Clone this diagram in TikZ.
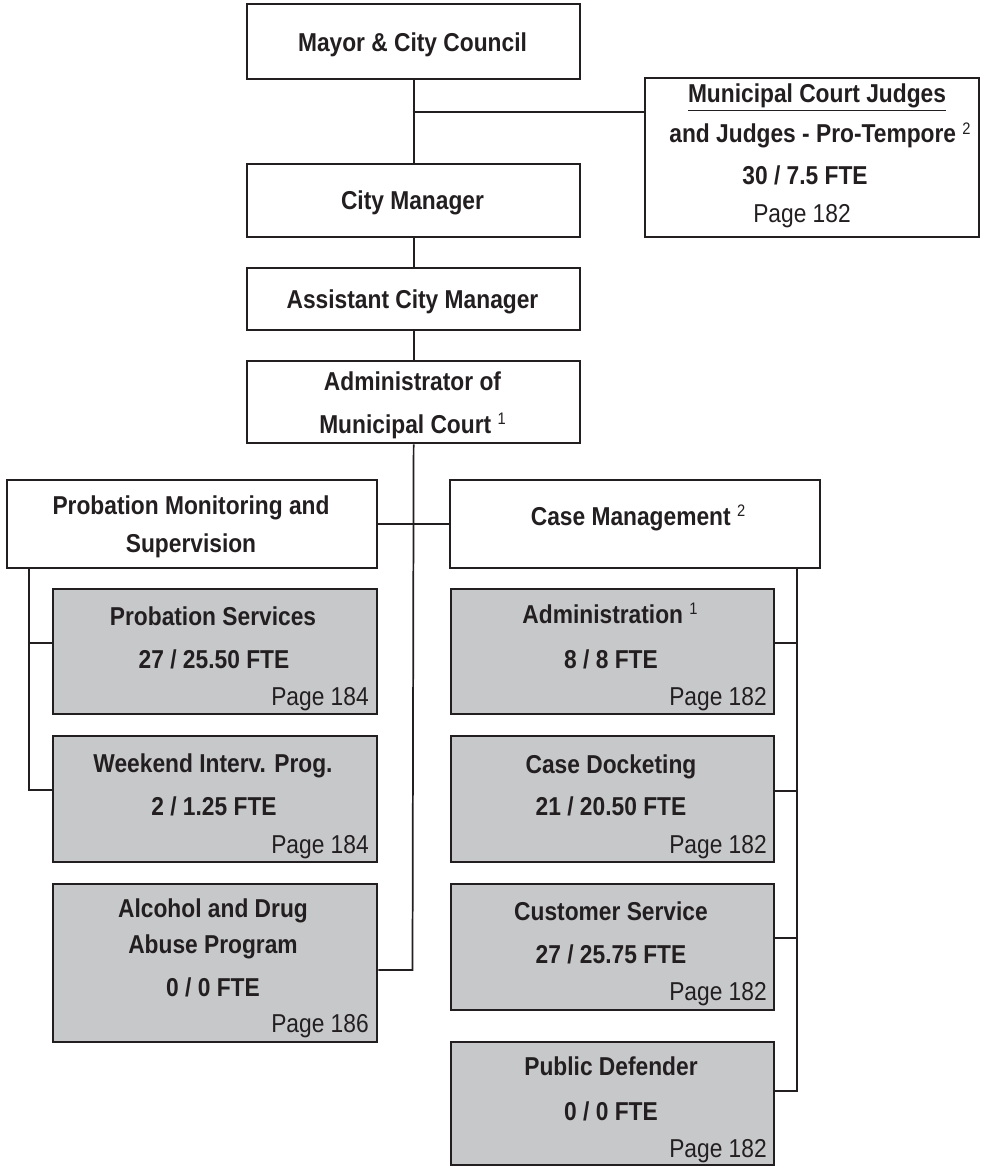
\documentclass[tikz,border=0pt]{standalone}
\usepackage{fontspec}
\setmainfont{Liberation Sans}[FakeStretch=0.88]
\usetikzlibrary{calc}
\definecolor{ink}{RGB}{35,31,32}
\definecolor{boxgrey}{RGB}{199,200,202}
\newcommand\supn[1]{\ \raisebox{6.5pt}{\fontsize{12.5}{12.5}\selectfont\mdseries #1}}
\begin{document}
\begin{tikzpicture}[x=0.75pt,y=-0.75pt,
  wbox/.style={draw=ink, line width=1.7pt, fill=white, rectangle, inner sep=0pt, anchor=north west},
  gbox/.style={wbox, fill=boxgrey},
  t/.style={font=\fontsize{19.4}{23}\selectfont\bfseries, text=ink, inner sep=0pt, anchor=base},
  pg/.style={font=\fontsize{19.4}{23}\selectfont, text=ink, inner sep=0pt, anchor=base east},
  conn/.style={draw=ink, line width=1.3pt}]
\useasboundingbox (0,0) rectangle (990,1166);
% boxes
\node[wbox, minimum width=249.75pt, minimum height=56.25pt] (mayor) at (246,3) {};
\node[wbox, minimum width=249.75pt, minimum height=54.75pt] (cm) at (246,163) {};
\node[wbox, minimum width=249.75pt, minimum height=46.5pt] (acm) at (246,267) {};
\node[wbox, minimum width=249.75pt, minimum height=61.5pt] (admin) at (246,360) {};
\node[wbox, minimum width=250.5pt, minimum height=119.25pt] (judges) at (644,77) {};
\node[wbox, minimum width=277.5pt, minimum height=66pt] (pm) at (6,479) {};
\node[wbox, minimum width=277.5pt, minimum height=66pt] (casem) at (449,479) {};
\node[gbox, minimum width=243pt, minimum height=93.75pt] (ps) at (52,588) {};
\node[gbox, minimum width=243pt, minimum height=94.5pt] (wip) at (52,735) {};
\node[gbox, minimum width=243pt, minimum height=118.5pt] (adap) at (52,883) {};
\node[gbox, minimum width=242.25pt, minimum height=93.75pt] (adm) at (450,588) {};
\node[gbox, minimum width=242.25pt, minimum height=94.5pt] (cd) at (450,735) {};
\node[gbox, minimum width=242.25pt, minimum height=94.5pt] (cs) at (450,883) {};
\node[gbox, minimum width=242.25pt, minimum height=92.25pt] (pd) at (450,1041) {};
% texts
\node[t] (mayort) at (412.5,52) {Mayor \& City Council};
\node[t] (cmt) at (412.5,210) {City Manager};
\node[t] (acmt) at (412.5,308) {Assistant City Manager};
\node[t] (admint1) at (412.5,390) {Administrator of};
\node[t] (admint2) at (412.5,433) {Municipal Court\supn{1}};
\node[t] (jt1) at (817,103) {\underline{Municipal Court Judges}};
\node[t] (jt2) at (820,143) {and Judges - Pro-Tempore\supn{2}};
\node[t] (jt3) at (805,185) {30 / 7.5 FTE};
\node[t, anchor=base, font=\fontsize{19.4}{23}\selectfont] (jt4) at (802,223) {Page 182};
\node[t] (pmt1) at (191,514) {Probation Monitoring and};
\node[t] (pmt2) at (191,552) {Supervision};
\node[t] (casemt) at (638,525) {Case Management\supn{2}};
\node[t] (pst1) at (213,625) {Probation Services};
\node[t] (pst2) at (214,668) {27 / 25.50 FTE};
\node[pg] (pst3) at (369,705) {Page 184};
\node[t] (wipt1) at (213,772) {Weekend Interv. Prog.};
\node[t] (wipt2) at (214,815) {2 / 1.25 FTE};
\node[pg] (wipt3) at (369,853) {Page 184};
\node[t] (adapt1) at (213,917) {Alcohol and Drug};
\node[t] (adapt2) at (213,953) {Abuse Program};
\node[t] (adapt3) at (213,996) {0 / 0 FTE};
\node[pg] (adapt4) at (369,1032) {Page 186};
\node[t] (admt1) at (610,623) {Administration\supn{1}};
\node[t] (admt2) at (611,668) {8 / 8 FTE};
\node[pg] (admt3) at (767,705) {Page 182};
\node[t] (cdt1) at (611,773) {Case Docketing};
\node[t] (cdt2) at (611,815) {21 / 20.50 FTE};
\node[pg] (cdt3) at (767,853) {Page 182};
\node[t] (cst1) at (611,920) {Customer Service};
\node[t] (cst2) at (611,963) {27 / 25.75 FTE};
\node[pg] (cst3) at (767,1000) {Page 182};
\node[t] (pdt1) at (611,1075) {Public Defender};
\node[t] (pdt2) at (611,1120) {0 / 0 FTE};
\node[pg] (pdt3) at (767,1157) {Page 182};
% connectors
\coordinate (jb) at (412.5,112);
\draw[conn] (mayor.south) -- (cm.north);
\draw[conn] (jb) -- (jb -| judges.west);
\draw[conn] (cm.south) -- (acm.north);
\draw[conn] (acm.south) -- (admin.north);
\coordinate (ad) at (412.5,970);
\draw[conn] (admin.south) -- (ad) -- (ad -| adap.east);
\draw[conn] (pm.east) -- (casem.west);
\coordinate (l1) at (29,643);
\coordinate (l2) at (29,790);
\draw[conn] (pm.south -| l1) -- (l2) -- (l2 -| wip.west);
\draw[conn] (l1) -- (l1 -| ps.west);
\coordinate (r1) at (797,643);
\coordinate (r2) at (797,791);
\coordinate (r3) at (797,938);
\coordinate (r4) at (797,1091);
\draw[conn] (casem.south -| r1) -- (r4) -- (r4 -| pd.east);
\draw[conn] (r1) -- (r1 -| adm.east);
\draw[conn] (r2) -- (r2 -| cd.east);
\draw[conn] (r3) -- (r3 -| cs.east);
\end{tikzpicture}
\end{document}
